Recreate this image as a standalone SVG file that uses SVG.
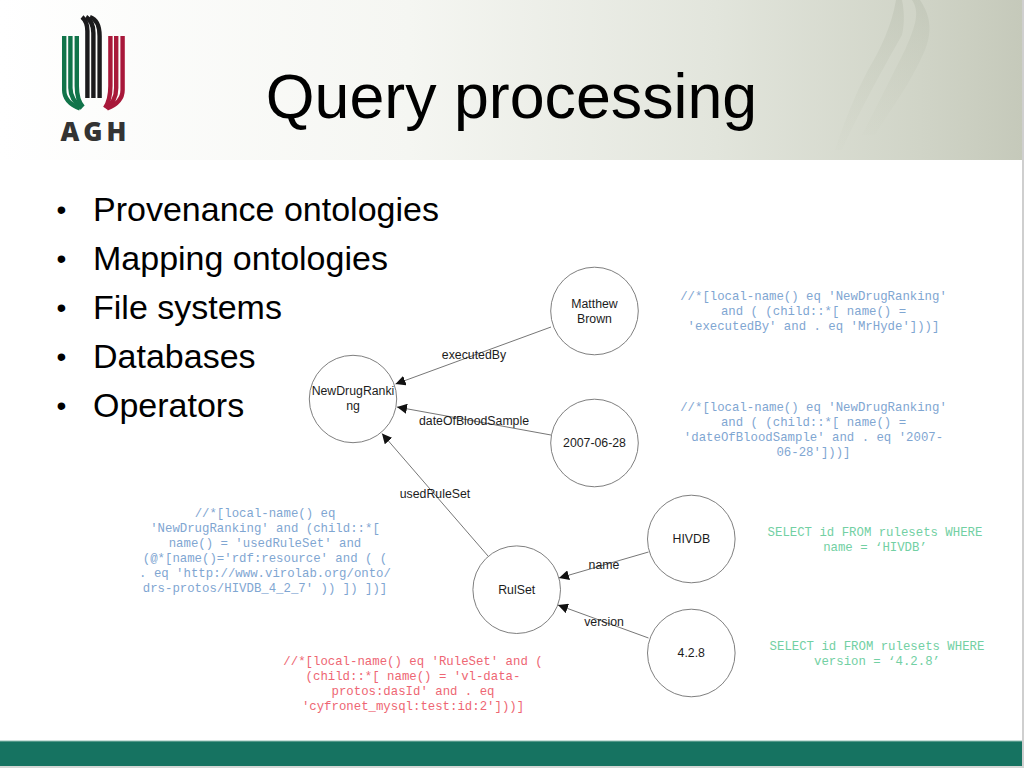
<svg xmlns="http://www.w3.org/2000/svg" width="1024" height="768" viewBox="0 0 1024 768">
<style>
.title{font:62.7px "Liberation Sans",Arial,sans-serif;fill:#000;text-anchor:middle}
.b{font:34px "Liberation Sans",Arial,sans-serif;fill:#000}
.d{font-size:28px}
.n,.l{font:12.3px "Liberation Sans",Arial,sans-serif;fill:#1c1c1c;text-anchor:middle}
.m{font:12.35px "Liberation Mono","Courier New",monospace;text-anchor:middle}
.blue{fill:#7fa6d2}.red{fill:#ee6673}.green{fill:#72d0a3}
circle{fill:#fff;stroke:#707070;stroke-width:.9}
.c{fill:none;stroke:#666;stroke-width:.9;marker-end:url(#arr)}
.s{fill:none;stroke-width:4.4}
</style>
<defs>
<linearGradient id="hdr" x1="0" x2="1" y1="0" y2="0">
<stop offset="0" stop-color="#ffffff"/><stop offset=".4" stop-color="#f5f6f2"/><stop offset=".7" stop-color="#e2e5dc"/><stop offset=".9" stop-color="#d0d4c7"/><stop offset="1" stop-color="#c5c9ba"/>
</linearGradient>
<linearGradient id="fade" x1="0" x2="0" y1="0" y2="1">
<stop offset="0" stop-color="#b4baaa" stop-opacity=".4"/><stop offset="1" stop-color="#c4c9b8" stop-opacity=".05"/>
</linearGradient>
<marker id="arr" viewBox="0 0 10 10" refX="10" refY="5" markerWidth="10" markerHeight="10" markerUnits="userSpaceOnUse" orient="auto"><path d="M0 0L10 5L0 10z" fill="#111"/></marker>
</defs>
<rect width="1024" height="768" fill="#fff"/>
<g id="background">
<rect x="0" y="0" width="1023" height="160" fill="url(#hdr)"/>
<path d="M896 0C892 25 880 50 868 70C855 95 845 120 835 150L842 150C860 110 885 65 902 35C905 22 904 10 902 0Z" fill="url(#fade)"/>
<path d="M912 0C920 12 916 25 905 50C895 70 880 100 862 135L875 135C890 110 910 85 925 50C933 30 930 15 920 0Z" fill="url(#fade)"/>
<rect x="0" y="741" width="1023" height="25" fill="#167361"/>
<rect x="0" y="740.500" width="1023" height="1" fill="#8fbdb2"/>
<rect x="1022" y="0" width="2" height="768" fill="#cfcfcf"/>
<rect x="0" y="766" width="1024" height="2" fill="#d5d8d6"/>
</g>
<g id="logo">
<g class="s" stroke="#11744a">
<path d="M64.200 36V90C64.200 99 71 105 80 108.500"/>
<path d="M70.400 36V88C70.400 97 75 103 82 108"/>
<path d="M76.800 36V86C76.800 95 78.500 102 83 107"/>
</g>
<g class="s" stroke="#1b1a1c">
<path d="M87.400 98V31C87.400 25 85.500 20 82 17"/>
<path d="M93.400 98V33C93.400 26 91 20 86 17"/>
<path d="M99.600 98V36C99.600 26 96 19 90 17"/>
</g>
<g class="s" stroke="#a8183a">
<path d="M110.400 36V86C110.400 95 109 102 105 108"/>
<path d="M116.200 36V88C116.200 97 112 104 106 108"/>
<path d="M122.600 36V90C122.600 99 116 105 107 108.500"/>
</g>
<text x="95.500" y="140.500" font-family="'Open Sans','DejaVu Sans',sans-serif" font-weight="800" font-size="26" letter-spacing="4" fill="#333" text-anchor="middle">AGH</text>
</g>
<text class="title" x="511.500" y="118">Query processing</text>
<g id="bullets" class="b">
<text class="d" x="56.500" y="219">•</text><text x="93" y="221">Provenance ontologies</text>
<text class="d" x="56.500" y="268">•</text><text x="93" y="270">Mapping ontologies</text>
<text class="d" x="56.500" y="317">•</text><text x="93" y="319">File systems</text>
<text class="d" x="56.500" y="366">•</text><text x="93" y="368">Databases</text>
<text class="d" x="56.500" y="415">•</text><text x="93" y="417">Operators</text>
</g>
<g id="connectors">
<path class="c" d="M551 327L395.500 384"/>
<path class="c" d="M551 435L397 407"/>
<path class="c" d="M488 556L382 433.500"/>
<path class="c" d="M648.500 552L559 578"/>
<path class="c" d="M648.500 638L558 605"/>
<text class="l" x="474" y="359">executedBy</text>
<text class="l" x="474" y="425">dateOfBloodSample</text>
<text class="l" x="435" y="498">usedRuleSet</text>
<text class="l" x="604" y="569">name</text>
<text class="l" x="604" y="626">version</text>
</g>
<g id="node-matthew"><circle cx="594.500" cy="311" r="43.800"/><text class="n" x="594.500" y="308">Matthew</text><text class="n" x="594.500" y="323">Brown</text></g>
<g id="node-newdrug"><circle cx="353" cy="399" r="43.700"/><text class="n" x="353" y="395">NewDrugRanki</text><text class="n" x="353" y="410">ng</text></g>
<g id="node-date"><circle cx="594.500" cy="443" r="43.800"/><text class="n" x="594.500" y="447">2007-06-28</text></g>
<g id="node-rulset"><circle cx="516.700" cy="589.700" r="43.800"/><text class="n" x="516.700" y="594">RulSet</text></g>
<g id="node-hivdb"><circle cx="691.300" cy="539" r="43.800"/><text class="n" x="691.300" y="543">HIVDB</text></g>
<g id="node-version"><circle cx="691.300" cy="653" r="43.800"/><text class="n" x="691.300" y="657">4.2.8</text></g>
<g id="notes" class="m">
<g class="blue">
<text x="813.500" y="300">//*[local-name() eq 'NewDrugRanking'</text>
<text x="813.500" y="315">and ( (child::*[ name() =</text>
<text x="813.500" y="330">'executedBy' and . eq 'MrHyde']))]</text>
<text x="813.500" y="410.500">//*[local-name() eq 'NewDrugRanking'</text>
<text x="813.500" y="425.500">and ( (child::*[ name() =</text>
<text x="813.500" y="440.500">'dateOfBloodSample' and . eq '2007-</text>
<text x="813.500" y="455.500">06-28']))]</text>
<text x="265" y="517">//*[local-name() eq</text>
<text x="265" y="532">'NewDrugRanking' and (child::*[</text>
<text x="265" y="547">name() = 'usedRuleSet' and</text>
<text x="265" y="562">(@*[name()='rdf:resource' and ( (</text>
<text x="265" y="577">. eq 'http://www.virolab.org/onto/</text>
<text x="265" y="592">drs-protos/HIVDB_4_2_7' )) ]) ])]</text>
</g>
<g class="red">
<text x="413" y="665">//*[local-name() eq 'RuleSet' and (</text>
<text x="413" y="680">(child::*[ name() = 'vl-data-</text>
<text x="413" y="695">protos:dasId' and . eq</text>
<text x="413" y="710">'cyfronet_mysql:test:id:2']))]</text>
</g>
<g class="green">
<text x="875" y="536">SELECT id FROM rulesets WHERE</text>
<text x="875" y="551">name = ‘HIVDB’</text>
<text x="877" y="650">SELECT id FROM rulesets WHERE</text>
<text x="877" y="665">version = ‘4.2.8’</text>
</g>
</g>
</svg>
